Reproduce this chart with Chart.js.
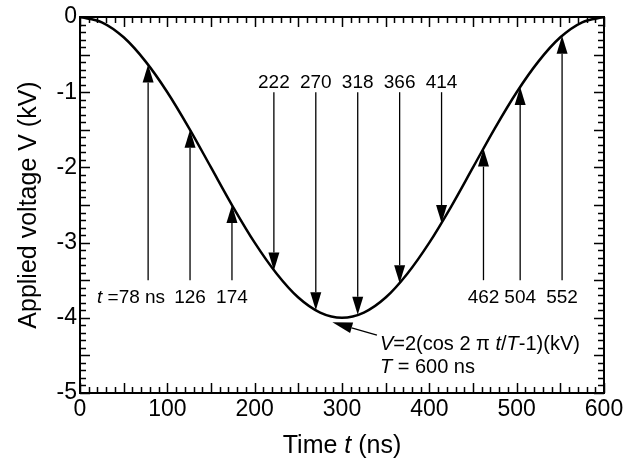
<!DOCTYPE html>
<html lang="en">
<head>
<meta charset="UTF-8">
<title>Applied voltage</title>
<script src="https://cdn.jsdelivr.net/npm/chart.js"></script>
<style>
  html, body { margin: 0; padding: 0; background: #fff; }
  #wrap { width: 627px; height: 461px; }
</style>
</head>
<body>
<div id="wrap"><canvas id="voltage"></canvas></div>
<script>
// curve, every 25 ns
const times = [0, 25, 50, 75, 100, 125, 150, 175, 200, 225, 250, 275, 300,
               325, 350, 375, 400, 425, 450, 475, 500, 525, 550, 575, 600];
const volts = [0, -0.07, -0.27, -0.59, -1.0, -1.48, -2.0, -2.52, -3.0, -3.41, -3.73, -3.93, -4.0,
               -3.93, -3.73, -3.41, -3.0, -2.52, -2.0, -1.48, -1.0, -0.59, -0.27, -0.07, 0];

// marker arrows: time, tail value, head value (on the curve)
const arrowTimes = [78, 126, 174, 222, 270, 318, 366, 414, 462, 504, 552];
const arrowFrom  = [-3.5, -3.5, -3.5, -1.0, -1.0, -1.0, -1.0, -1.0, -3.5, -3.5, -3.5];
const arrowTo    = [-0.63, -1.5, -2.5, -3.37, -3.9, -3.96, -3.54, -2.74, -1.75, -0.93, -0.25];
const arrowLabels = ['78 ns', '126', '174', '222', '270', '318', '366', '414', '462', '504', '552'];

const xTicks = [0, 100, 200, 300, 400, 500, 600];
const yTicks = [0, -1, -2, -3, -4, -5];

const FONT = "'Liberation Sans', Arial, sans-serif";

function runs(ctx, parts, x, y, size, align) {
    // parts: [text, italic]
    let w = 0;
    parts.forEach(p => {
        ctx.font = (p[1] ? 'italic ' : '') + size + 'px ' + FONT;
        w += ctx.measureText(p[0]).width;
    });
    let cx = align === 'center' ? x - w / 2 : (align === 'right' ? x - w : x);
    ctx.textAlign = 'left';
    parts.forEach(p => {
        ctx.font = (p[1] ? 'italic ' : '') + size + 'px ' + FONT;
        ctx.fillText(p[0], cx, y);
        cx += ctx.measureText(p[0]).width;
    });
}

function arrow(ctx, x1, y1, x2, y2, len, half) {
    const a = Math.atan2(y2 - y1, x2 - x1);
    const bx = x2 - len * Math.cos(a), by = y2 - len * Math.sin(a);
    ctx.beginPath();
    ctx.moveTo(x1, y1);
    ctx.lineTo(bx, by);
    ctx.stroke();
    ctx.beginPath();
    ctx.moveTo(x2, y2);
    ctx.lineTo(bx + half * Math.sin(a), by - half * Math.cos(a));
    ctx.lineTo(bx - half * Math.sin(a), by + half * Math.cos(a));
    ctx.closePath();
    ctx.fill();
}

const extras = {
    id: 'extras',
    afterDraw(chart) {
        const ctx = chart.ctx;
        const a = chart.chartArea;
        const xs = chart.scales.x, ys = chart.scales.y;
        ctx.save();
        ctx.strokeStyle = '#000';
        ctx.fillStyle = '#000';

        // frame
        ctx.lineWidth = 2;
        ctx.strokeRect(a.left, a.top, a.right - a.left, a.bottom - a.top);

        // inward ticks, all four sides
        ctx.lineWidth = 1.5;
        ctx.beginPath();
        for (let t = 0; t <= 600; t += 10) {
            const px = Math.round(xs.getPixelForValue(t)) + 0.5;
            const l = t % 50 === 0 ? 10 : 6;
            ctx.moveTo(px, a.bottom); ctx.lineTo(px, a.bottom - l);
            ctx.moveTo(px, a.top); ctx.lineTo(px, a.top + l);
        }
        for (let k = 0; k <= 50; k++) {
            const py = Math.round(ys.getPixelForValue(-k / 10)) + 0.5;
            const l = k % 5 === 0 ? 10 : 6;
            ctx.moveTo(a.left, py); ctx.lineTo(a.left + l, py);
            ctx.moveTo(a.right, py); ctx.lineTo(a.right - l, py);
        }
        ctx.stroke();

        // marker arrows and their labels
        ctx.lineWidth = 1.3;
        ctx.textBaseline = 'alphabetic';
        arrowTimes.forEach((t, i) => {
            const px = xs.getPixelForValue(t);
            const y1 = ys.getPixelForValue(arrowFrom[i]);
            const y2 = ys.getPixelForValue(arrowTo[i]);
            arrow(ctx, px, y1, px, y2, 18, 5.5);
            const top = arrowFrom[i] > arrowTo[i];
            const ly = top ? y1 - 4 : y1 + 23;
            if (i === 0) {
                runs(ctx, [['t', true], [' =' + arrowLabels[i], false]], px + 17, ly, 19, 'right');
            } else {
                runs(ctx, [[arrowLabels[i], false]], px, ly, 19, 'center');
            }
        });

        // formula annotation
        const ax = xs.getPixelForValue(340), ay = ys.getPixelForValue(-4.23);
        arrow(ctx, ax, ay, xs.getPixelForValue(289), ys.getPixelForValue(-4.06), 20, 5.5);
        const tx = ax + 3;
        runs(ctx, [['V', true], ['=2(cos 2 \u03c0 ', false], ['t', true], ['/', false], ['T', true], ['-1)(kV)', false]],
             tx, ys.getPixelForValue(-4.43), 20, 'left');
        runs(ctx, [['T', true], [' = 600 ns', false]], tx, ys.getPixelForValue(-4.74), 20, 'left');

        // axis titles
        runs(ctx, [['Time ', false], ['t', true], [' (ns)', false]], (a.left + a.right) / 2, 453, 25, 'center');
        ctx.translate(36, (a.top + a.bottom) / 2);
        ctx.rotate(-Math.PI / 2);
        runs(ctx, [['Applied voltage V (kV)', false]], 0, 0, 25, 'center');
        ctx.restore();
    }
};

new Chart(document.getElementById('voltage'), {
    type: 'line',
    data: {
        labels: times,
        datasets: [{
            data: times.map((t, i) => ({ x: t, y: volts[i] })),
            borderColor: '#000',
            borderWidth: 2.5,
            pointRadius: 0,
            cubicInterpolationMode: 'monotone',
            fill: false
        }]
    },
    options: {
        responsive: true,
        maintainAspectRatio: false,
        animation: false,
        events: [],
        layout: { padding: { top: 17, right: 23, left: 0, bottom: 0 } },
        plugins: { legend: { display: false }, tooltip: { enabled: false } },
        scales: {
            x: {
                type: 'linear',
                min: 0, max: 600,
                afterBuildTicks: s => { s.ticks = xTicks.map(v => ({ value: v })); },
                afterFit: s => { s.height = 68; s.paddingLeft = 0; s.paddingRight = 0; },
                grid: { display: false, drawTicks: false },
                border: { display: false },
                ticks: { color: '#000', padding: 3, maxRotation: 0, autoSkip: false,
                         font: { family: FONT, size: 23 } }
            },
            y: {
                min: -5, max: 0,
                afterBuildTicks: s => { s.ticks = yTicks.map(v => ({ value: v })); },
                afterFit: s => { s.width = 80; s.paddingTop = 0; s.paddingBottom = 0; },
                grid: { display: false, drawTicks: false },
                border: { display: false },
                ticks: { color: '#000', padding: 3, autoSkip: false,
                         font: { family: FONT, size: 23 } }
            }
        }
    },
    plugins: [extras]
});
</script>
</body>
</html>
